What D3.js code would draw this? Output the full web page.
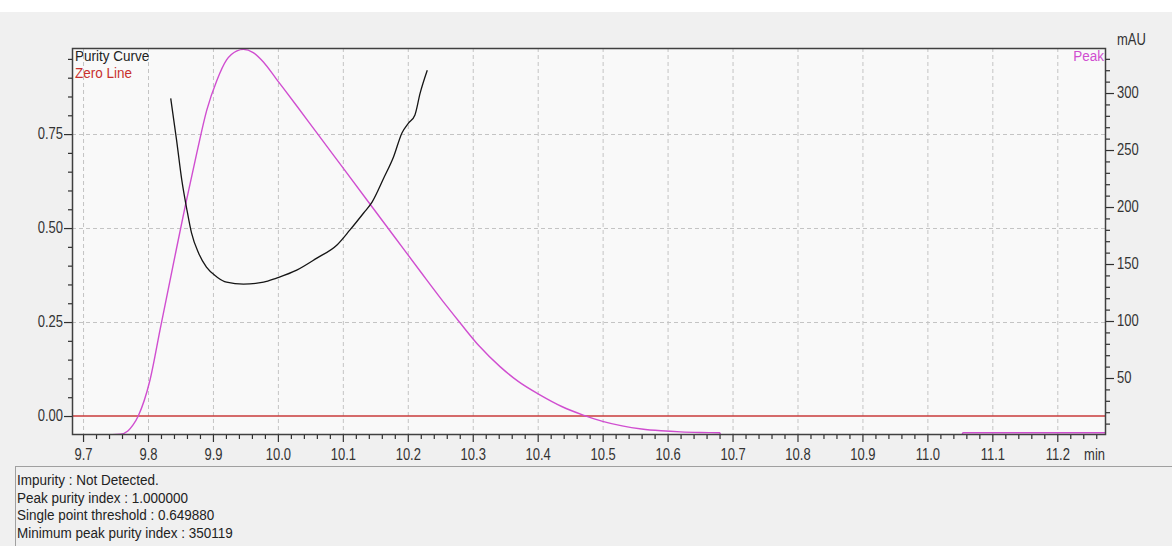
<!DOCTYPE html>
<html>
<head>
<meta charset="utf-8">
<script src="https://cdn.jsdelivr.net/npm/d3@7"></script>
<style>
  html, body { margin: 0; padding: 0; background: #f0f0f0; }
  svg { display: block; font-family: "Liberation Sans", Arial, sans-serif; }
</style>
</head>
<body>
<svg id="chart" width="1172" height="546"></svg>
<script>
// Retention time (min) and detector signal (mAU) of the peak trace
const peakTime = [9.683, 9.745, 9.757, 9.769, 9.777, 9.785, 9.803, 9.819, 9.838, 9.857, 9.875, 9.8905,
  9.906, 9.921, 9.937, 9.947, 9.962, 9.978, 9.998, 10.03, 10.06, 10.10, 10.14, 10.18, 10.22,
  10.26, 10.281, 10.31, 10.342, 10.37, 10.404, 10.437, 10.47, 10.50, 10.53, 10.56, 10.59,
  10.62, 10.65, 10.68, 10.682, 11.053, 11.055, 11.275];
const peakMAU = [0.3, 0.3, 0.6, 3.5, 8.8, 16.7, 48, 93.6, 147, 200, 247, 285,
  311, 329, 337, 338.3, 335.5, 327, 312, 288, 265, 234.5, 204, 173.5, 143,
  113, 98, 78, 60, 47, 35, 25, 17.5, 12, 8, 5.3, 3.7,
  2.7, 2.2, 2.0, 0.3, 0.3, 2.0, 2.0];

// Purity curve (left axis)
const purityTime = [9.835, 9.844, 9.852, 9.860, 9.867, 9.878, 9.890, 9.906, 9.921, 9.947, 9.978, 9.998,
  10.029, 10.060, 10.091, 10.111, 10.132, 10.145, 10.163, 10.178, 10.191, 10.201, 10.211, 10.219, 10.230];
const purityValue = [0.845, 0.734, 0.628, 0.548, 0.487, 0.433, 0.396, 0.370, 0.356, 0.351, 0.356, 0.367,
  0.388, 0.420, 0.455, 0.495, 0.540, 0.569, 0.633, 0.689, 0.753, 0.779, 0.801, 0.859, 0.920];

// Axis ticks and labels
const timeTicks = [9.7, 9.8, 9.9, 10.0, 10.1, 10.2, 10.3, 10.4, 10.5, 10.6, 10.7, 10.8, 10.9, 11.0, 11.1, 11.2];
const timeLabels = ["9.7", "9.8", "9.9", "10.0", "10.1", "10.2", "10.3", "10.4", "10.5", "10.6", "10.7", "10.8", "10.9", "11.0", "11.1", "11.2"];
const purityTicks = [0, 0.25, 0.5, 0.75];
const purityLabels = ["0.00", "0.25", "0.50", "0.75"];
const mauTicks = [50, 100, 150, 200, 250, 300];
const mauLabels = ["50", "100", "150", "200", "250", "300"];

// Summary lines under the chart
const infoLines = [
  "Impurity : Not Detected.",
  "Peak purity index : 1.000000",
  "Single point threshold : 0.649880",
  "Minimum peak purity index : 350119"
];

const svg = d3.select("#chart");
const W = 1172, H = 546;
const plot = { left: 72, right: 1106, top: 48, bottom: 435 };
const TEXT_STRETCH = "scale(1,1.2)";

const x = d3.scaleLinear().domain([9.683, 11.275]).range([plot.left, plot.right]);
const yL = d3.scaleLinear().domain([-0.0505, 0.979]).range([plot.bottom, plot.top]);
const yR = d3.scaleLinear().domain([0, 339.5]).range([plot.bottom, plot.top]);

// Window background
svg.append("rect").attr("width", W).attr("height", H).attr("fill", "#f0f0f0");
svg.append("rect").attr("width", W).attr("height", 12).attr("fill", "#ffffff");

// Plot area
svg.append("rect")
  .attr("x", plot.left).attr("y", plot.top)
  .attr("width", plot.right - plot.left).attr("height", plot.bottom - plot.top)
  .attr("fill", "#f9f9f9");

// Dashed grid
const grid = svg.append("g").attr("stroke", "#c4c4c4").attr("stroke-dasharray", "4,3").attr("stroke-width", 1);
grid.selectAll("line.v").data(timeTicks).join("line")
  .attr("x1", d => x(d) + 0.5).attr("x2", d => x(d) + 0.5)
  .attr("y1", plot.top).attr("y2", plot.bottom);
grid.selectAll("line.h").data(purityTicks.filter(d => d > 0)).join("line")
  .attr("x1", plot.left).attr("x2", plot.right)
  .attr("y1", d => Math.round(yL(d)) + 0.5).attr("y2", d => Math.round(yL(d)) + 0.5);

// Clip for traces
svg.append("clipPath").attr("id", "plotClip").append("rect")
  .attr("x", plot.left).attr("y", plot.top - 2)
  .attr("width", plot.right - plot.left).attr("height", plot.bottom - plot.top + 2);

// Zero line
svg.append("line")
  .attr("x1", plot.left).attr("x2", plot.right)
  .attr("y1", yL(0)).attr("y2", yL(0))
  .attr("stroke", "#c83a3a").attr("stroke-width", 1.6);

// Peak trace
const peakLine = d3.line().x((d, i) => x(peakTime[i])).y(d => yR(d)).curve(d3.curveMonotoneX);
svg.append("path").datum(peakMAU)
  .attr("clip-path", "url(#plotClip)")
  .attr("d", peakLine)
  .attr("fill", "none").attr("stroke", "#d04ed0").attr("stroke-width", 1.4);

// Purity curve
const purityLine = d3.line().x((d, i) => x(purityTime[i])).y(d => yL(d)).curve(d3.curveMonotoneX);
svg.append("path").datum(purityValue)
  .attr("d", purityLine)
  .attr("fill", "none").attr("stroke", "#151515").attr("stroke-width", 1.3);

// Frame
svg.append("rect")
  .attr("x", plot.left + 0.5).attr("y", plot.top + 0.5)
  .attr("width", plot.right - plot.left - 1).attr("height", plot.bottom - plot.top - 1)
  .attr("fill", "none").attr("stroke", "#404040").attr("stroke-width", 1.5);

function styleAxis(g) {
  g.select(".domain").remove();
  g.selectAll(".tick line").attr("stroke", "#303030").attr("stroke-width", 1.2);
  g.selectAll("text").attr("fill", "#333").style("font-size", "13px");
}

// Time axis
const minorTime = d3.range(0, 79).map(i => 9.70 + i * 0.02).filter(v => Math.abs(Math.round(v * 10) - v * 10) > 1e-6);
svg.append("g").attr("transform", `translate(0,${plot.bottom})`)
  .call(d3.axisBottom(x).tickValues(minorTime).tickSize(4).tickFormat(""))
  .call(styleAxis);
const xAxis = svg.append("g").attr("transform", `translate(0,${plot.bottom})`)
  .call(d3.axisBottom(x).tickValues(timeTicks).tickSize(7).tickFormat((d, i) => timeLabels[i]))
  .call(styleAxis);
xAxis.selectAll("text").attr("y", 0).attr("dy", null).attr("transform", `translate(0,25) ${TEXT_STRETCH}`);

// Left axis (purity)
const minorPurity = d3.range(1, 20).map(i => i * 0.05).filter(v => Math.abs(v * 4 - Math.round(v * 4)) > 1e-6);
svg.append("g").attr("transform", `translate(${plot.left},0)`)
  .call(d3.axisLeft(yL).tickValues(minorPurity).tickSize(4).tickFormat(""))
  .call(styleAxis);
const yAxisL = svg.append("g").attr("transform", `translate(${plot.left},0)`)
  .call(d3.axisLeft(yL).tickValues(purityTicks).tickSize(8).tickFormat((d, i) => purityLabels[i]))
  .call(styleAxis);
yAxisL.selectAll("text").attr("x", 0).attr("dy", null).attr("transform", `translate(-9,4.5) ${TEXT_STRETCH}`);

// Right axis (mAU)
const minorMAU = d3.range(1, 34).map(i => i * 10).filter(v => v % 50 !== 0);
svg.append("g").attr("transform", `translate(${plot.right},0)`)
  .call(d3.axisRight(yR).tickValues(minorMAU).tickSize(4).tickFormat(""))
  .call(styleAxis);
const yAxisR = svg.append("g").attr("transform", `translate(${plot.right},0)`)
  .call(d3.axisRight(yR).tickValues(mauTicks).tickSize(8).tickFormat((d, i) => mauLabels[i]))
  .call(styleAxis);
yAxisR.selectAll("text").attr("x", 0).attr("dy", null).attr("transform", `translate(11,4.5) ${TEXT_STRETCH}`);

// Text helper
function label(tx, ty, str, color, anchor, size, stretch) {
  return svg.append("text")
    .attr("transform", `translate(${tx},${ty}) ${stretch || TEXT_STRETCH}`)
    .attr("text-anchor", anchor || "start")
    .attr("fill", color)
    .style("font-size", (size || 13) + "px")
    .text(str);
}

// Legend and units
const LEGEND_STRETCH = "scale(1,1.1)";
label(75, 61, "Purity Curve", "#222", "start", 13.5, LEGEND_STRETCH);
label(75, 78, "Zero Line", "#c8302c", "start", 13.5, LEGEND_STRETCH);
label(1104, 61, "Peak", "#d04ed0", "end", 13.5, LEGEND_STRETCH);
label(1117, 45, "mAU", "#333");
label(1105, 460, "min", "#333", "end");

// Summary box
svg.append("line").attr("x1", 15).attr("x2", W).attr("y1", 466.5).attr("y2", 466.5).attr("stroke", "#a0a0a0");
svg.append("line").attr("x1", 15.5).attr("x2", 15.5).attr("y1", 466).attr("y2", H).attr("stroke", "#a0a0a0");
infoLines.forEach((t, i) => label(17, 485 + i * 17.5, t, "#222", "start", 13.5, "scale(1,1.1)"));
</script>
</body>
</html>
